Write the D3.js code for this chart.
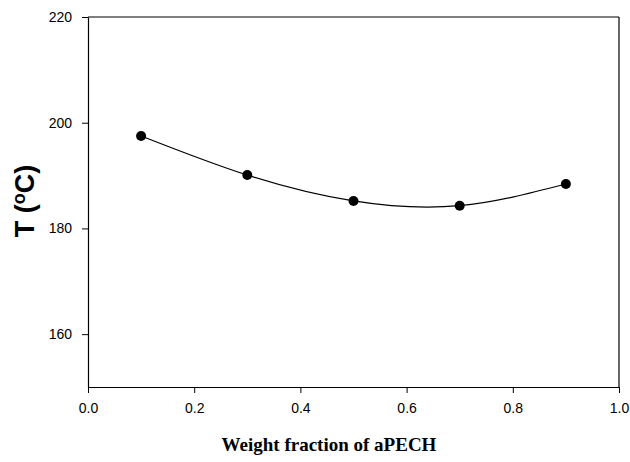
<!DOCTYPE html>
<html>
<head>
<meta charset="utf-8">
<script src="https://cdn.jsdelivr.net/npm/d3@7"></script>
<style>
  body { margin: 0; background: #fff; }
  text { font-family: Arial, "Liberation Sans", sans-serif; }
</style>
</head>
<body>
<div id="chart-area"></div>
<script>
// data
const fractions = [0.1, 0.3, 0.5, 0.7, 0.9]
const temps = [197.5, 190.1, 185.2, 184.3, 188.4]
const xTicks = [0.0, 0.2, 0.4, 0.6, 0.8, 1.0]
const yTicks = [160, 180, 200, 220]

const width = 630, height = 462
const mLeft = 88, mRight = 619, mTop = 17, mBottom = 387

const svg = d3.select("#chart-area").append("svg")
    .attr("width", width)
    .attr("height", height)

const x = d3.scaleLinear().domain([0, 1]).range([mLeft, mRight])
const y = d3.scaleLinear().domain([150, 220]).range([mBottom, mTop])

// frame
svg.append("line").attr("x1", mLeft).attr("x2", mRight).attr("y1", mTop).attr("y2", mTop)
    .attr("stroke", "#000").attr("stroke-width", 1.2)
svg.append("line").attr("x1", mRight).attr("x2", mRight).attr("y1", mTop).attr("y2", mBottom)
    .attr("stroke", "#000").attr("stroke-width", 1.2)

// x axis
const xAxis = svg.append("g")
    .attr("transform", `translate(0,${mBottom})`)
    .call(d3.axisBottom(x).tickValues(xTicks).tickFormat(d3.format(".1f")).tickSizeInner(6).tickSizeOuter(0).tickPadding(10))
xAxis.select(".domain").attr("stroke-width", 1.2)
xAxis.selectAll("text").attr("font-size", 14).attr("fill", "#000")

// y axis
const yAxis = svg.append("g")
    .attr("transform", `translate(${mLeft},0)`)
    .call(d3.axisLeft(y).tickValues(yTicks).tickSizeInner(6).tickSizeOuter(0).tickPadding(10))
yAxis.select(".domain").attr("stroke-width", 1.2)
yAxis.selectAll("text").attr("font-size", 14).attr("fill", "#000")

// fitted curve
const pts = fractions.map((f, i) => [f, temps[i]])
svg.append("path")
    .datum(pts)
    .attr("fill", "none")
    .attr("stroke", "#000")
    .attr("stroke-width", 1.2)
    .attr("d", d3.line().x(d => x(d[0])).y(d => y(d[1])).curve(d3.curveNatural))

// markers
svg.selectAll("circle.pt")
    .data(pts)
    .join("circle")
    .attr("class", "pt")
    .attr("cx", d => x(d[0]))
    .attr("cy", d => y(d[1]))
    .attr("r", 5)
    .attr("fill", "#000")

// axis titles
const yTitle = svg.append("text")
    .attr("transform", `translate(34,201) rotate(-90)`)
    .attr("text-anchor", "middle")
    .attr("font-size", 27)
    .attr("font-weight", "bold")
yTitle.append("tspan").text("T (")
yTitle.append("tspan").attr("font-size", 18).attr("dy", -9).text("o")
yTitle.append("tspan").attr("dy", 9).text("C)")

svg.append("text")
    .attr("x", 329)
    .attr("y", 451)
    .attr("text-anchor", "middle")
    .attr("font-size", 19)
    .attr("font-weight", "bold")
    .style("font-family", "'Liberation Serif', 'DejaVu Serif', serif")
    .text("Weight fraction of aPECH")
</script>
</body>
</html>
